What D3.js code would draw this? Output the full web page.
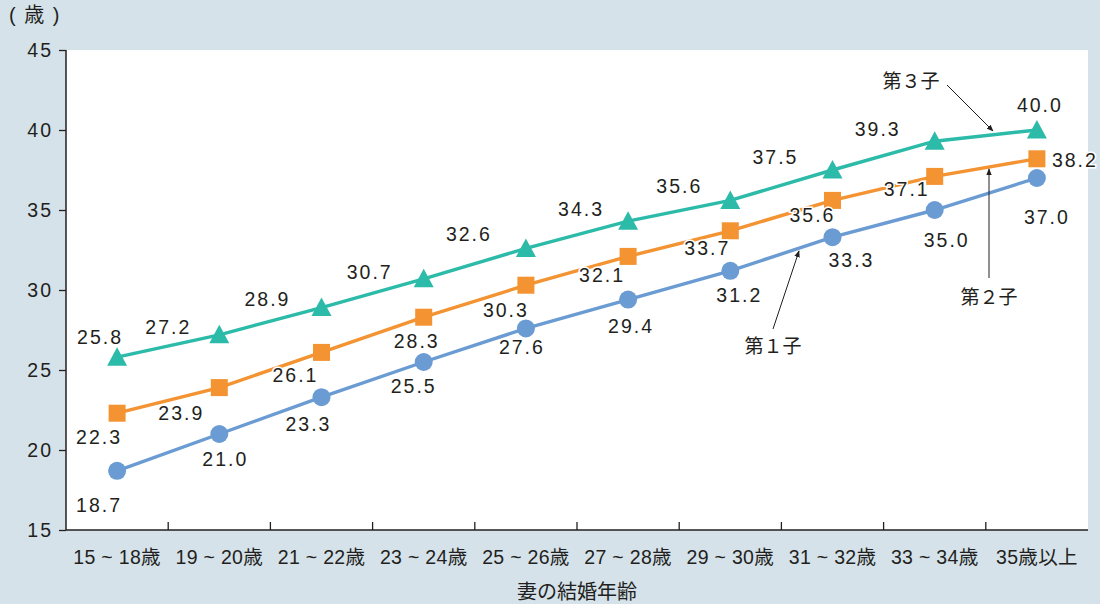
<!DOCTYPE html>
<html>
<head>
<meta charset="utf-8">
<script src="https://cdn.jsdelivr.net/npm/d3@7"></script>
<style>
  body { margin: 0; background: #d5e2ea; }
  svg text { font-family: "Liberation Sans", Arial, "Noto Sans CJK JP", sans-serif; fill: #231f20; }
</style>
</head>
<body>
<svg id="chart" width="1100" height="604"></svg>
<script>
  var categories = ["15 ~ 18歳", "19 ~ 20歳", "21 ~ 22歳", "23 ~ 24歳", "25 ~ 26歳", "27 ~ 28歳", "29 ~ 30歳", "31 ~ 32歳", "33 ~ 34歳", "35歳以上"];
  var first = [18.7, 21.0, 23.3, 25.5, 27.6, 29.4, 31.2, 33.3, 35.0, 37.0];
  var second = [22.3, 23.9, 26.1, 28.3, 30.3, 32.1, 33.7, 35.6, 37.1, 38.2];
  var third = [25.8, 27.2, 28.9, 30.7, 32.6, 34.3, 35.6, 37.5, 39.3, 40.0];
  var yTicks = [15, 20, 25, 30, 35, 40, 45];

  // label offsets (dx, dy) from each point
  var firstOff = [[-19, 34], [5, 25], [-14, 27], [-11, 24], [-5, 19], [2, 27], [8, 24], [18, 23], [11, 30], [9, 39]];
  var secondOff = [[-19, 24], [-39, 26], [-27, 23], [-8, 24], [-21, 25], [-27, 19], [-24, 17], [-21, 15], [-29, 13], [37, 1]];
  var thirdOff = [[-18, -20], [-52, -8], [-55, -8], [-55, -7], [-58, -14], [-48, -12], [-52, -14], [-58, -13], [-58, -12], [2, -25]];

  var svg = d3.select("#chart");
  var margin = { top: 50, right: 12, bottom: 74, left: 66 };
  var width = 1100 - margin.left - margin.right;
  var height = 604 - margin.top - margin.bottom;

  var x = d3.scaleBand().domain(categories).range([0, width]);
  var y = d3.scaleLinear().domain([15, 45]).range([height, 0]);

  var g = svg.append("g").attr("transform", "translate(" + margin.left + "," + margin.top + ")");

  g.append("rect").attr("width", width).attr("height", height).attr("fill", "#fff");

  // y axis
  var yAxis = g.append("g").call(d3.axisLeft(y).tickValues(yTicks).tickSize(7).tickPadding(6));
  yAxis.select(".domain").attr("stroke", "#231f20").attr("stroke-width", 1.5).attr("d", "M0," + height + "V0");
  yAxis.selectAll(".tick line").attr("stroke", "#231f20").attr("stroke-width", 1.3);
  yAxis.selectAll(".tick text").style("font-size", "19.5px").style("letter-spacing", "2px").attr("dy", "0.35em").attr("fill", "#231f20");

  // x axis: ticks at category boundaries, pointing inward
  var xb = g.append("g").attr("transform", "translate(0," + height + ")");
  xb.append("line").attr("x1", 0).attr("x2", width).attr("stroke", "#231f20").attr("stroke-width", 1.5);
  xb.selectAll("line.tk").data(categories.slice(1)).enter().append("line")
    .attr("class", "tk")
    .attr("x1", function (d) { return x(d); }).attr("x2", function (d) { return x(d); })
    .attr("y1", 0).attr("y2", -8)
    .attr("stroke", "#231f20").attr("stroke-width", 1.3);
  xb.selectAll("text.cat").data(categories).enter().append("text")
    .attr("class", "cat")
    .attr("x", function (d) { return x(d) + x.bandwidth() / 2; })
    .attr("y", 27)
    .attr("dy", "0.35em")
    .attr("text-anchor", "middle")
    .style("font-size", "19.5px")
    .style("letter-spacing", "0.3px")
    .text(function (d) { return d; });

  g.append("text").attr("x", width / 2).attr("y", height + 62).attr("dy", "0.35em").attr("text-anchor", "middle")
    .style("font-size", "20px").text("妻の結婚年齢");

  svg.append("text").attr("x", 9).attr("y", 15).attr("dy", "0.35em").style("font-size", "20px").style("letter-spacing", "1.5px").text("( 歳 )");

  var series = [
    { values: third, off: thirdOff, color: "#2dbba9", shape: "tri" },
    { values: second, off: secondOff, color: "#f39331", shape: "sq" },
    { values: first, off: firstOff, color: "#6a9bd3", shape: "circ" }
  ];

  var cx = function (d, i) { return x(categories[i]) + x.bandwidth() / 2; };
  var line = d3.line().x(cx).y(function (d) { return y(d); });

  series.forEach(function (s) {
    g.append("path").datum(s.values).attr("d", line)
      .attr("fill", "none").attr("stroke", s.color).attr("stroke-width", 3.4);
  });

  series.forEach(function (s) {
    var pts = g.selectAll(null).data(s.values).enter();
    if (s.shape === "circ") {
      pts.append("circle").attr("cx", cx).attr("cy", function (d) { return y(d); }).attr("r", 9).attr("fill", s.color);
    } else if (s.shape === "sq") {
      pts.append("rect").attr("x", function (d, i) { return cx(d, i) - 8.5; }).attr("y", function (d) { return y(d) - 8.5; })
        .attr("width", 17).attr("height", 17).attr("fill", s.color);
    } else {
      pts.append("path")
        .attr("transform", function (d, i) { return "translate(" + cx(d, i) + "," + y(d) + ")"; })
        .attr("d", "M0,-10L10,8.5L-10,8.5Z").attr("fill", s.color);
    }
  });

  series.forEach(function (s) {
    g.selectAll(null).data(s.values).enter().append("text")
      .attr("x", function (d, i) { return cx(d, i) + s.off[i][0] + 1; })
      .attr("y", function (d, i) { return y(d) + s.off[i][1]; })
      .attr("text-anchor", "middle")
      .attr("dy", "0.35em")
      .style("font-size", "19.5px").style("letter-spacing", "2px")
      .attr("stroke", "#fff").attr("stroke-width", 3).attr("paint-order", "stroke")
      .text(function (d) { return d.toFixed(1); });
  });

  // annotations
  var defs = svg.append("defs");
  defs.append("marker").attr("id", "arr").attr("viewBox", "0 0 10 10").attr("refX", 9).attr("refY", 5)
    .attr("markerWidth", 7).attr("markerHeight", 7).attr("orient", "auto")
    .append("path").attr("d", "M0,1L10,5L0,9Z").attr("fill", "#231f20");

  var notes = [
    { text: "第３子", tx: 911, ty: 81, from: [947, 85], to: [993, 131] },
    { text: "第２子", tx: 989, ty: 297, from: [989, 278], to: [989, 169] },
    { text: "第１子", tx: 773, ty: 346, from: [773, 329], to: [799, 251] }
  ];
  notes.forEach(function (n) {
    svg.append("line").attr("x1", n.from[0]).attr("y1", n.from[1]).attr("x2", n.to[0]).attr("y2", n.to[1])
      .attr("stroke", "#231f20").attr("stroke-width", 1).attr("marker-end", "url(#arr)");
    svg.append("text").attr("x", n.tx).attr("y", n.ty).attr("text-anchor", "middle").attr("dy", "0.35em")
      .style("font-family", "'Noto Sans CJK JP', sans-serif")
      .style("font-size", "19px").text(n.text);
  });
</script>
</body>
</html>
